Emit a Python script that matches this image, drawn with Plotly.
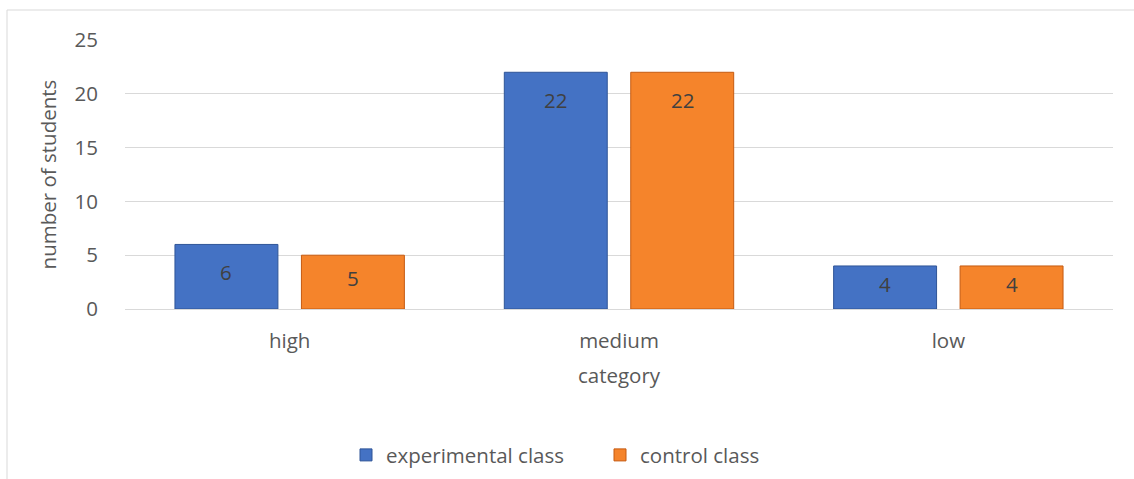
import plotly.graph_objects as go

categories = ["high", "medium", "low"]
experimental = [6, 22, 4]
control = [5, 22, 4]
series_names = ["experimental class", "control class"]
y_ticks = [0, 5, 10, 15, 20, 25]

W, H = 1134, 479
ML, MR, MT, MB = 125, 21, 40, 170
BARGAP = 0.232
GROUPGAP = 0.186
YMAX = 25

font_family = "'Open Sans', Lato, sans-serif"
txt = "#595959"
FS = 20.5

fig = go.Figure()
fig.add_trace(go.Bar(
    x=categories, y=experimental, name=series_names[0],
    marker=dict(color="#4472C4", line=dict(color="#2F5597", width=1)),
))
fig.add_trace(go.Bar(
    x=categories, y=control, name=series_names[1],
    marker=dict(color="#F5842B", line=dict(color="#C55A11", width=1)),
))

plot_w = W - ML - MR
plot_h = H - MT - MB
cat_px = plot_w / len(categories)
slot_px = cat_px * (1 - BARGAP) / 2
px_per_unit = plot_h / YMAX

annotations = []
for si, vals in enumerate([experimental, control]):
    shift = (si - 0.5) * slot_px
    for c, v in zip(categories, vals):
        bar_px = v * px_per_unit
        annotations.append(dict(
            x=c, y=v, xref="x", yref="y", text=str(v), showarrow=False,
            xshift=shift, yshift=-min(28, 0.42 * bar_px),
            yanchor="middle", font=dict(family=font_family, size=FS, color="#404040"),
        ))

fig.update_layout(
    width=W, height=H,
    margin=dict(l=ML, r=MR, t=MT, b=MB, autoexpand=False),
    paper_bgcolor="white", plot_bgcolor="white",
    barmode="group", bargap=BARGAP, bargroupgap=GROUPGAP,
    font=dict(family=font_family, size=FS, color=txt),
    showlegend=True,
    legend=dict(orientation="h", x=(346 - ML) / plot_w, xanchor="left", y=-0.543, yanchor="middle",
                font=dict(size=FS, color=txt), itemwidth=30, entrywidth=209,
                traceorder="normal"),
    annotations=annotations,
    shapes=[dict(type="rect", xref="paper", yref="paper",
                 x0=(7 - ML) / plot_w, x1=1.2, y0=-1.0, y1=(H - MB - 10) / plot_h,
                 line=dict(color="#D9D9D9", width=1), fillcolor="rgba(0,0,0,0)", layer="below")],
)
fig.update_xaxes(
    showgrid=False, showline=True, linecolor="#D9D9D9", linewidth=1, automargin=False,
    ticks="outside", ticklen=13, tickcolor="rgba(0,0,0,0)",
    tickfont=dict(size=FS, color=txt),
    title=dict(text="category", font=dict(size=FS, color=txt), standoff=16),
)
fig.update_yaxes(
    range=[0, YMAX], tickvals=y_ticks, showgrid=True, gridcolor="#D9D9D9", gridwidth=1,
    zeroline=False, showline=False, automargin=False,
    ticks="outside", ticklen=22, tickcolor="rgba(0,0,0,0)",
    tickfont=dict(size=FS, color=txt),
    title=dict(text="number of students", font=dict(size=FS, color=txt), standoff=12),
)

fig.write_html("out.html")
